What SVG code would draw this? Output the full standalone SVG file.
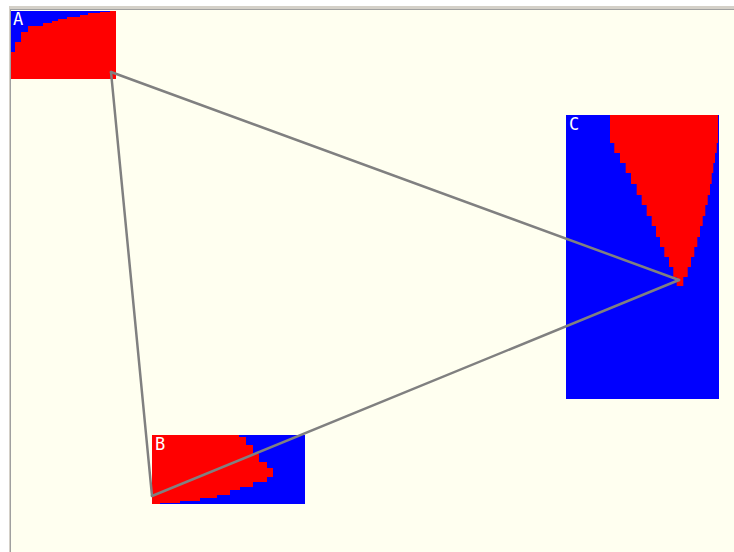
<svg xmlns="http://www.w3.org/2000/svg" width="734" height="552" viewBox="0 0 734 552">
<style>
.box{fill:#0000ff}
.fill{fill:#ff0000}
.lbl{fill:#ffffff;font-family:"DejaVu Sans Mono","Liberation Mono",monospace;font-size:17px}
.edge{stroke:#808080;stroke-width:2.5;fill:none;stroke-linecap:round}
</style>
<rect x="0" y="0" width="734" height="552" fill="#ffffff"/>
<rect x="9" y="6" width="725" height="546" fill="#d4d0c8"/>
<rect x="10" y="9" width="724" height="543" fill="#a0a0a0"/>
<rect x="11" y="10" width="723" height="542" fill="#fffff0"/>
<g id="A">
<rect class="box" x="11" y="11" width="105" height="68"/>
<polygon class="fill" points="11,79 11,52 15,52 15,42 21,42 21,32 28,32 28,26 43,26 43,23 52,23 52,21 58,21 58,19 67,19 67,17 80,17 80,15 88,15 88,13 100,13 100,12 110,12 110,11 116,11 116,79"/>
<text class="lbl" x="13" y="25">A</text>
</g>
<g id="B">
<rect class="box" x="152" y="435" width="153" height="69"/>
<polygon class="fill" points="152,435 239,435 239,437 246,437 246,445 253,445 253,454 259,454 259,462 267,462 267,468 273,468 273,477 267,477 267,482 253,482 253,487 240,487 240,490 230,490 230,495 217,495 217,498 200,498 200,501 180,501 180,503 160,503 160,504 152,504"/>
<text class="lbl" x="155" y="450">B</text>
</g>
<g id="C">
<rect class="box" x="566" y="115" width="153" height="284"/>
<polygon class="fill" points="610,115 718,115 718,143 716.7,143 716.7,153 715,153 715,163 713.3,163 713.3,173 711.7,173 711.7,184 710,184 710,195 707.7,195 707.7,205 705.3,205 705.3,216 702.7,216 702.7,226 700,226 700,237 697.3,237 697.3,247 694.3,247 694.3,257 691,257 691,267 687.7,267 687.7,277 683.3,277 683.3,286 676.7,286 676.7,277 673.3,277 673.3,267 669,267 669,257 664.3,257 664.3,247 660,247 660,237 656,237 656,226 651.7,226 651.7,216 646.7,216 646.7,205 641.7,205 641.7,195 636.7,195 636.7,184 631,184 631,173 625.7,173 625.7,163 620,163 620,153 614.3,153 614.3,143 610,143"/>
<text class="lbl" x="569" y="130">C</text>
</g>
<g id="connectors">
<line class="edge" x1="111" y1="72" x2="679" y2="280"/>
<line class="edge" x1="111" y1="72" x2="152" y2="496"/>
<line class="edge" x1="152" y1="496" x2="679" y2="280"/>
</g>
</svg>
